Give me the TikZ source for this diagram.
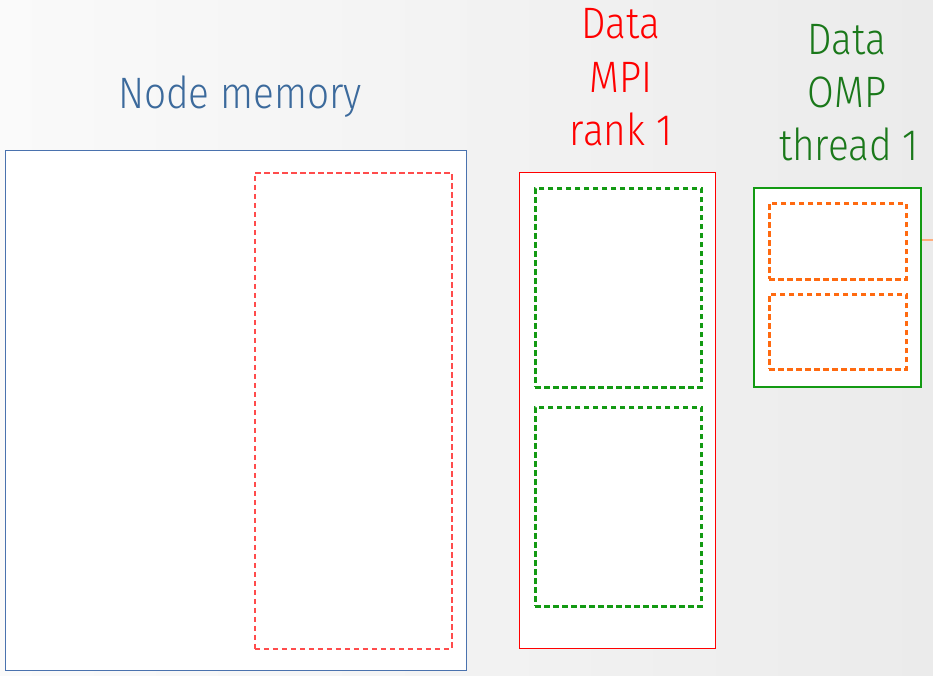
\documentclass[tikz,border=0pt]{standalone}
\usepackage{fontspec}
\setmainfont{Fira Sans Light}[FakeStretch=0.88]
\definecolor{bgA}{HTML}{FAFAFA}
\definecolor{bgB}{HTML}{EBEBEB}
\definecolor{memblue}{HTML}{4A72AE}
\definecolor{labblue}{HTML}{3C6A9C}
\definecolor{mpired}{HTML}{FF0000}
\definecolor{ompgreen}{HTML}{139A13}
\definecolor{labgreen}{HTML}{1A781A}
\definecolor{orng}{HTML}{FF6A10}
\tikzset{
  box/.style={draw, fill=white, line width=#1},
  dbox/.style={draw, dash pattern=on 5.5pt off 3.5pt, line width=2.5pt, inner sep=0pt, anchor=north west},
  lab/.style={font=\fontsize{44}{54}\selectfont, inner sep=0pt, anchor=base},
}
\begin{document}
\begin{tikzpicture}[x=1pt,y=-1pt]
  % backdrop with soft grey gradient
  \shade[left color=bgA, right color=bgB] (0,0) rectangle (933,675);
  \useasboundingbox (0,0) rectangle (933,675);

  % node memory block
  \node[box=1pt, draw=memblue, minimum width=461pt, minimum height=520pt, anchor=north west] (mem) at (5,150) {};
  \node[dbox, draw=mpired!70, line width=1.7pt, minimum width=197pt, minimum height=476pt] (share) at (254,172) {};
  \node[lab, text=labblue] (memlab) at (240,108) {Node memory};

  % MPI rank block
  \node[box=1.3pt, draw=mpired, minimum width=196pt, minimum height=476pt, anchor=north west] (mpi) at (519,172) {};
  \node[dbox, draw=ompgreen, minimum width=166pt, minimum height=199pt] (g1) at (534,187) {};
  \node[dbox, draw=ompgreen, minimum width=166pt, minimum height=199pt] (g2) at (534,406) {};
  \node[lab, text=mpired] (mpiA) at (621,38) {Data};
  \node[lab, text=mpired] (mpiB) at (621,92) {MPI};
  \node[lab, text=mpired] (mpiC) at (621,145) {rank 1};

  % OMP thread block
  \node[box=2.2pt, draw=ompgreen, minimum width=167pt, minimum height=199pt, anchor=north west] (omp) at (753,187) {};
  \node[dbox, draw=orng, minimum width=137pt, minimum height=76pt] (o1) at (768,202) {};
  \node[dbox, draw=orng, minimum width=137pt, minimum height=75pt] (o2) at (768,293) {};
  \node[lab, text=labgreen] (ompA) at (847,54) {Data};
  \node[lab, text=labgreen] (ompB) at (847,107) {OMP};
  \node[lab, text=labgreen] (ompC) at (849,160) {thread 1};

  \coordinate (edge) at (933,240);
  \draw[orng!55, line width=1.5pt] (omp.east |- edge) -- (edge);
\end{tikzpicture}
\end{document}
